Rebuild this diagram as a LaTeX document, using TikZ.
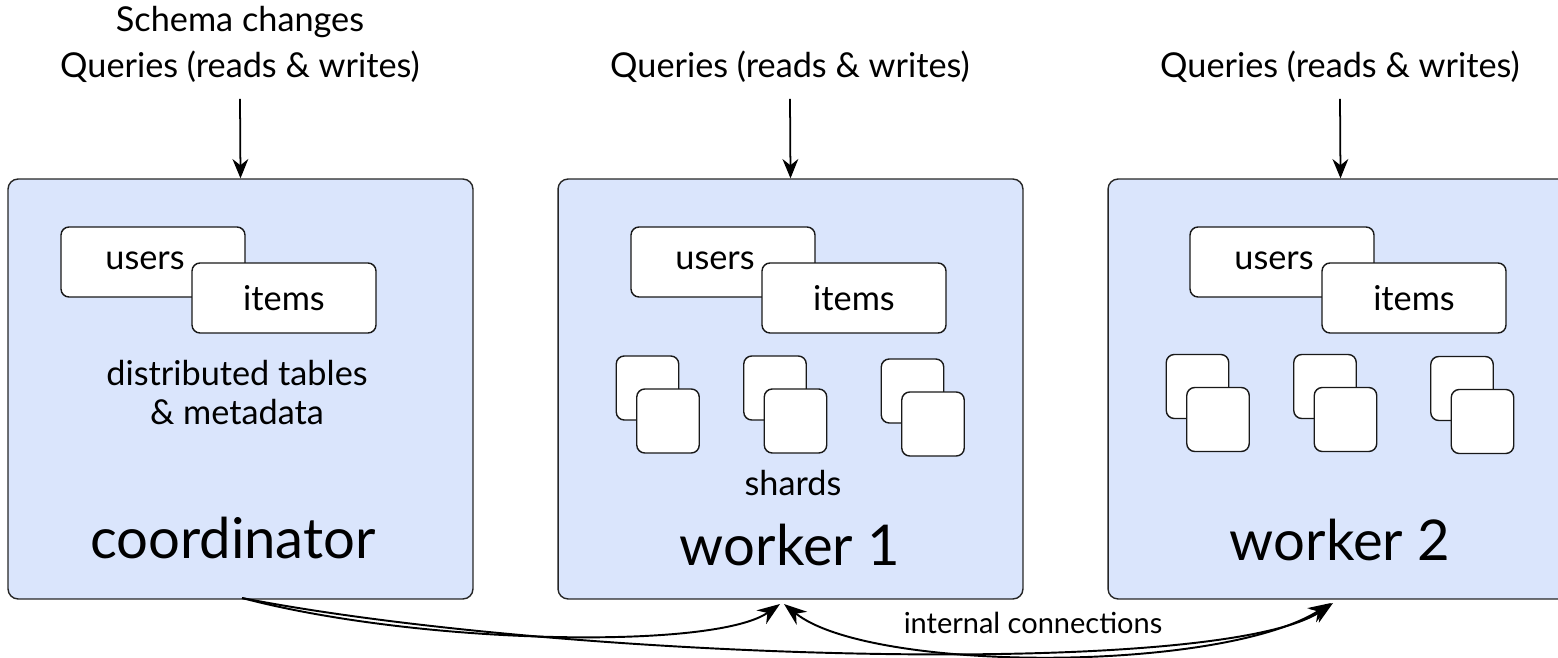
\documentclass[tikz,border=0pt]{standalone}
\usepackage{fontspec}
\setmainfont{Lato}
\usetikzlibrary{arrows.meta}
\definecolor{boxblue}{HTML}{DAE5FC}
\begin{document}
\begin{tikzpicture}[x=0.02cm,y=-0.02cm,
  bigbox/.style={draw=black!85, fill=boxblue, line width=0.8pt, rounded corners=0.2cm, minimum width=9.3cm, minimum height=8.4cm, inner sep=0pt},
  tbl/.style={draw=black!90, fill=white, line width=0.8pt, rounded corners=0.16cm, minimum width=3.68cm, minimum height=1.4cm, inner sep=0pt},
  shard/.style={draw=black!90, fill=white, line width=0.8pt, rounded corners=0.16cm, minimum width=1.25cm, minimum height=1.28cm, inner sep=0pt},
  body/.style={font=\fontsize{19.5}{22}\selectfont, inner sep=0pt},
  big/.style={font=\fontsize{32}{38}\selectfont, inner sep=0pt},
  small/.style={font=\fontsize{16.5}{20}\selectfont, inner sep=0pt},
  arr/.style={-{Stealth[length=11pt,width=9pt]}, line width=1pt},
  conn/.style={-{Stealth[length=13pt,width=9.5pt]}, line width=1.1pt}
]
\useasboundingbox (0,0) rectangle (1558,658);
\clip (0,0) rectangle (1558,658);

% top labels
\node[body] (schema) at (240,22) {Schema changes};
\node[body] (q0) at (240,67) {Queries (reads \& writes)};
\node[body] (q1) at (790,67) {Queries (reads \& writes)};
\node[body] (q2) at (1340,67) {Queries (reads \& writes)};

% main boxes
\node[bigbox] (coord) at (240.5,389) {};
\node[bigbox] (w1) at (790.5,389) {};
\node[bigbox] (w2) at (1340.5,389) {};

% input arrows
\draw[arr] ([yshift=-9pt]q0.south) -- (coord.north);
\draw[arr] ([yshift=-9pt]q1.south) -- (w1.north);
\draw[arr] ([yshift=-9pt]q2.south) -- (w2.north);

% tables
\foreach \n/\ux/\ix in {c/153/284, a/723/854, b/1282/1414}{
  \node[tbl] (users\n) at (\ux,262) {};
  \node[body] (userslbl\n) at (\ux-8,261) {users};
  \node[tbl] (items\n) at (\ix,298) {};
  \node[body] (itemslbl\n) at (\ix,298) {items};
}

% coordinator texts
\node[body, align=center] (meta) at (237,392.5) {distributed tables\\\& metadata};
\node[big] (coordlbl) at (233,538) {coordinator};

% shards worker 1
\foreach \i/\bx/\by in {1/647.5/388, 2/775/388, 3/912.5/391}{
  \node[shard] (sa\i) at (\bx,\by) {};
  \node[shard] (sfa\i) at (\bx+20.5,\by+33) {};
}
% shards worker 2
\foreach \i/\bx/\by in {1/1197.5/386.5, 2/1325/386.5, 3/1462/388.5}{
  \node[shard] (sb\i) at (\bx,\by) {};
  \node[shard] (sfb\i) at (\bx+20.5,\by+33) {};
}
\node[body] (shardslbl) at (793,483) {shards};
\node[big] (w1lbl) at (790,545) {worker 1};
\node[big] (w2lbl) at (1340,540) {worker 2};

% internal connections
\coordinate (cs) at (242,598);
\coordinate (w1a) at (780,604);
\coordinate (w1b) at (784,604);
\coordinate (w2a) at (1333,603);
\coordinate (w2b) at (1331,603);
\draw[conn] (cs) .. controls (420,645) and (715,650) .. (w1a);
\draw[conn] (cs) .. controls (560,660) and (1220,680) .. (w2a);
\draw[conn, {Stealth[length=13pt,width=9.5pt]}-{Stealth[length=13pt,width=9.5pt]}] (w1b) .. controls (870,673) and (1220,673) .. (w2b);
\node[small] (intlbl) at (1033,623) {internal connections};
\end{tikzpicture}
\end{document}
